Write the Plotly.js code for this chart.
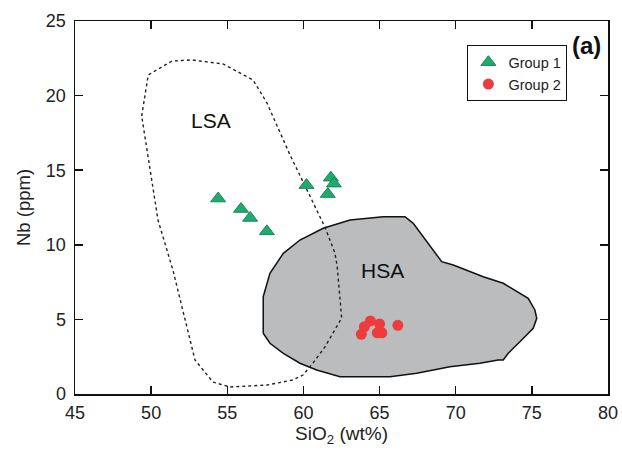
<!DOCTYPE html>
<html>
<head>
<meta charset="utf-8">
<script src="https://cdn.plot.ly/plotly-3.0.1.min.js"></script>
<style>
  html, body { margin: 0; padding: 0; background: #fff; }
  #chart { width: 622px; height: 453px; }
</style>
</head>
<body>
<div id="chart"></div>
<script>
// Group 1 samples (SiO2 wt%, Nb ppm)
const group1Si = [54.4, 55.9, 56.5, 57.6, 60.2, 61.8, 62.0, 61.6];
const group1Nb = [13.1, 12.4, 11.8, 10.9, 14.0, 14.5, 14.1, 13.4];

// Group 2 samples
const group2Si = [64.4, 65.0, 64.0, 63.8, 64.85, 65.15, 66.2];
const group2Nb = [4.9, 4.7, 4.5, 4.0, 4.1, 4.1, 4.6];

// LSA field outline
const lsaSi = [49.38, 49.81, 51.37, 52.68, 54.72, 56.69, 57.61, 59.12, 60.56, 61.41, 62.07, 62.22,
               62.51, 61.41, 60.63, 59.97, 59.31, 57.61, 55.18, 54.06, 52.88, 51.43, 50.45, 49.71, 49.38];
const lsaNb = [18.63, 21.38, 22.32, 22.39, 22.12, 21.05, 19.50, 16.02, 12.99, 11.19, 9.45, 8.51,
               5.09, 3.15, 2.08, 1.27, 0.94, 0.60, 0.47, 0.80, 2.28, 8.31, 11.66, 16.35, 18.63];

// HSA field outline
const hsaSi = [57.36, 57.36, 57.80, 58.68, 59.77, 61.30, 63.06, 65.24, 66.67, 67.21, 69.08, 69.84,
               71.81, 73.12, 74.76, 75.20, 75.32, 75.09, 74.33, 73.45, 73.12, 72.79, 71.59, 69.62,
               67.44, 65.68, 63.50, 62.40, 60.87, 59.77, 58.68, 57.80, 57.36];
const hsaNb = [4.07, 6.52, 8.09, 9.43, 10.32, 11.11, 11.66, 11.88, 11.88, 11.44, 8.87, 8.65,
               7.86, 7.42, 6.41, 5.63, 5.07, 4.40, 3.62, 2.73, 2.28, 2.28, 2.06, 1.83,
               1.39, 1.16, 1.16, 1.16, 1.61, 2.06, 2.73, 3.40, 4.07];

// Field labels
const fieldNames = ['LSA', 'HSA'];
const fieldLabelSi = [53.9, 65.2];
const fieldLabelNb = [18.3, 8.3];

const xTicks = [45, 50, 55, 60, 65, 70, 75, 80];
const yTicks = [0, 5, 10, 15, 20, 25];

const font = 'Liberation Sans, Arial, sans-serif';

const traces = [
  {
    x: hsaSi, y: hsaNb, mode: 'lines', fill: 'toself', fillcolor: '#babcbe',
    line: {color: '#111', width: 1.5}, showlegend: false, hoverinfo: 'skip'
  },
  {
    x: lsaSi, y: lsaNb, mode: 'lines',
    line: {color: '#222', width: 1.4, dash: 'dot'}, showlegend: false, hoverinfo: 'skip'
  },
  {
    x: group1Si, y: group1Nb, mode: 'markers', name: 'Group 1',
    marker: {symbol: 'triangle-up', size: 13, color: '#22aa6e', line: {color: '#16875a', width: 1}}
  },
  {
    x: group2Si, y: group2Nb, mode: 'markers', name: 'Group 2',
    marker: {symbol: 'circle', size: 11, color: '#ee3b3b', line: {color: '#ee3b3b', width: 0}}
  }
];

const axisCommon = {
  showgrid: false, zeroline: false, showline: true, linecolor: '#111', linewidth: 1.5,
  mirror: 'ticks', ticks: 'inside', ticklen: 8, tickwidth: 1.5, tickcolor: '#111',
  tickfont: {family: font, size: 18, color: '#222'}
};

const fieldAnnotations = fieldNames.map((name, i) => ({
  text: name, x: fieldLabelSi[i], y: fieldLabelNb[i], xref: 'x', yref: 'y',
  showarrow: false, font: {family: font, size: 21, color: '#111'}
}));

const layout = {
  width: 622, height: 453,
  margin: {l: 75, r: 14, t: 21, b: 59},
  paper_bgcolor: '#fff', plot_bgcolor: '#fff',
  xaxis: Object.assign({}, axisCommon, {
    range: [45, 80], tickvals: xTicks, ticktext: xTicks.map(String), ticklabelstandoff: 2,
    title: {text: 'SiO<sub>2</sub> (wt%)', font: {family: font, size: 19, color: '#222'}, standoff: 2}
  }),
  yaxis: Object.assign({}, axisCommon, {
    range: [0, 25], tickvals: yTicks, ticktext: yTicks.map(String), ticklabelstandoff: 4,
    automargin: true,
    title: {text: 'Nb (ppm)', font: {family: font, size: 18.5, color: '#222'}, standoff: 10}
  }),
  legend: {
    x: 0.83, y: 0.935, xanchor: 'center', yanchor: 'top',
    bordercolor: '#111', borderwidth: 1, bgcolor: '#fff',
    font: {family: font, size: 14.5, color: '#222'},
    itemwidth: 30
  },
  annotations: fieldAnnotations.concat([{
    text: '<b>(a)</b>', xref: 'paper', yref: 'paper', x: 0.99, y: 0.975,
    xanchor: 'right', yanchor: 'top', showarrow: false,
    font: {family: font, size: 24, color: '#111'}
  }])
};

Plotly.newPlot('chart', traces, layout, {displayModeBar: false, staticPlot: true});
</script>
</body>
</html>
